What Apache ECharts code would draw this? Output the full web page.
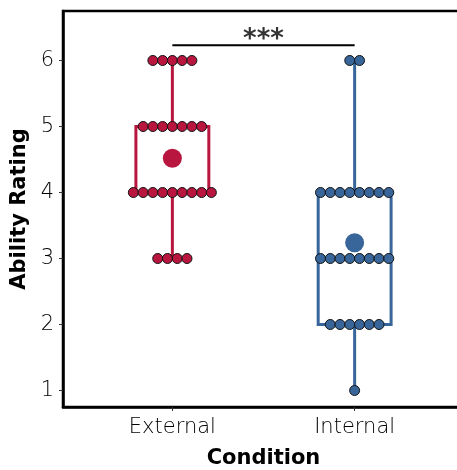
<!DOCTYPE html>
<html>
<head>
<meta charset="utf-8">
<script src="https://cdn.jsdelivr.net/npm/echarts@6/dist/echarts.min.js"></script>
<style>html,body{margin:0;padding:0;background:#fff}#c{width:457px;height:470px}</style>
</head>
<body>
<div id="c"></div>
<script>
// ---- data ----
var categories = ['External', 'Internal'];
var ratingLevels = [1, 2, 3, 4, 5, 6];
// number of participants at each rating level (1..6)
var externalCounts = [0, 0, 4, 9, 7, 5];
var internalCounts = [1, 6, 8, 8, 0, 2];
// box stats: [low whisker, Q1, median, Q3, high whisker]
var externalBox = [3, 4, 4, 5, 6];
var internalBox = [1, 2, 3, 4, 6];
var means = [4.52, 3.24];
var yTicks = [1, 2, 3, 4, 5, 6];
var sigLabel = '***';
var sigY = 6.23;

var colors = ['#B8163F', '#38669A'];
var FONT = 'DejaVu Sans';
var dotPitch = 0.0535;

function dotData(counts, catIndex) {
  var out = [];
  var cx = catIndex + 1;
  counts.forEach(function (n, li) {
    for (var i = 0; i < n; i++) {
      out.push([cx + (i - (n - 1) / 2) * dotPitch, ratingLevels[li]]);
    }
  });
  return out;
}

var boxes = [[1].concat(externalBox), [2].concat(internalBox)];

var chart = echarts.init(document.getElementById('c'), null, {renderer: 'canvas'});
chart.setOption({
  animation: false,
  grid: {left: 63, right: -7, top: 11, bottom: 63, show: true, borderColor: '#000', borderWidth: 2.5,
    backgroundColor: 'transparent', containLabel: false, outerBoundsMode: 'none'},
  xAxis: {
    type: 'value', min: 0.4, max: 2.6,
    splitLine: {show: false},
    axisLine: {show: true, onZero: false, lineStyle: {color: '#000', width: 2.5}},
    axisTick: {show: true, length: 4, customValues: [1, 2], lineStyle: {color: '#333', width: 1}},
    axisLabel: {customValues: [1, 2], margin: 10, fontFamily: FONT, fontWeight: 200, fontSize: 21, color: '#000',
      formatter: function (v) { return categories[Math.round(v) - 1]; }},
    name: 'Condition', nameLocation: 'middle', nameGap: 41,
    nameTextStyle: {fontFamily: FONT, fontWeight: 'bold', fontSize: 21, color: '#000'}
  },
  yAxis: {
    type: 'value', min: 0.75, max: 6.75,
    splitLine: {show: false},
    axisLine: {show: true, onZero: false, lineStyle: {color: '#000', width: 2.5}},
    axisTick: {show: true, length: 4, customValues: yTicks, lineStyle: {color: '#333', width: 1}},
    axisLabel: {customValues: yTicks, margin: 9, fontFamily: FONT, fontWeight: 200, fontSize: 21, color: '#000'},
    name: 'Ability Rating', nameLocation: 'middle', nameGap: 29, nameRotate: 90,
    nameTextStyle: {fontFamily: FONT, fontWeight: 'bold', fontSize: 21, color: '#000'}
  },
  series: [
    {
      type: 'custom', z: 1,
      data: boxes,
      renderItem: function (params, api) {
        var x = api.value(0);
        var c = colors[params.dataIndex];
        var hw = 0.2;
        var pLow = api.coord([x, api.value(1)]);
        var pQ1 = api.coord([x, api.value(2)]);
        var pMed = api.coord([x, api.value(3)]);
        var pQ3 = api.coord([x, api.value(4)]);
        var pHigh = api.coord([x, api.value(5)]);
        var l = api.coord([x - hw, 0])[0];
        var r = api.coord([x + hw, 0])[0];
        var st = {stroke: c, lineWidth: 3, fill: null};
        return {type: 'group', children: [
          {type: 'line', shape: {x1: pLow[0], y1: pLow[1], x2: pQ1[0], y2: pQ1[1]}, style: st},
          {type: 'line', shape: {x1: pQ3[0], y1: pQ3[1], x2: pHigh[0], y2: pHigh[1]}, style: st},
          {type: 'rect', shape: {x: l, y: pQ3[1], width: r - l, height: pQ1[1] - pQ3[1]}, style: {stroke: c, lineWidth: 3, fill: 'transparent'}},
          {type: 'line', shape: {x1: l, y1: pMed[1], x2: r, y2: pMed[1]}, style: st}
        ]};
      }
    },
    {
      type: 'scatter', z: 3, symbolSize: 10,
      data: dotData(externalCounts, 0),
      itemStyle: {color: colors[0], borderColor: '#111', borderWidth: 1, opacity: 1}
    },
    {
      type: 'scatter', z: 3, symbolSize: 10,
      data: dotData(internalCounts, 1),
      itemStyle: {color: colors[1], borderColor: '#111', borderWidth: 1, opacity: 1}
    },
    {
      type: 'scatter', z: 4, symbolSize: 19,
      data: means.map(function (m, i) { return {value: [i + 1, m], itemStyle: {color: colors[i]}}; }),
      itemStyle: {opacity: 1}
    },
    {
      type: 'line', z: 2, symbol: 'none', silent: true,
      data: [[1, sigY], [2, sigY]],
      lineStyle: {color: '#000', width: 2}
    },
    {
      type: 'scatter', z: 5, symbolSize: 0, silent: true,
      data: [[1.5, sigY]],
      label: {show: true, position: 'inside', offset: [0, -5], verticalAlign: 'middle', formatter: sigLabel,
        fontFamily: FONT, fontWeight: 'bold', fontSize: 26, color: '#000'}
    }
  ]
});
</script>
</body>
</html>
